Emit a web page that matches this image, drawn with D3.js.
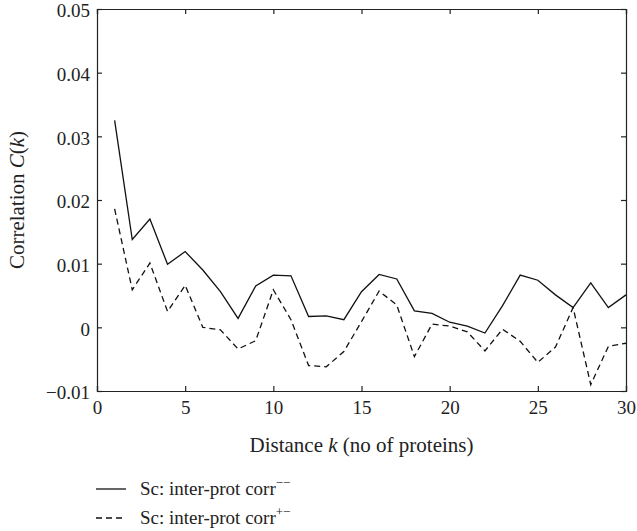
<!DOCTYPE html>
<html>
<head>
<meta charset="utf-8">
<script src="https://cdn.jsdelivr.net/npm/d3@7"></script>
<style>
  body { margin: 0; background: #fff; }
  svg text { font-family: "Liberation Serif", "DejaVu Serif", serif; fill: #222; }
</style>
</head>
<body>
<script>
// distance k (no of proteins)
var distance = d3.range(1, 31);

// Sc: inter-prot corr-- (solid)
var corrMinusMinus = [0.0325, 0.0138, 0.0170, 0.0099, 0.0119, 0.0090, 0.0056, 0.0014, 0.0065, 0.0082,
                      0.0081, 0.0017, 0.0018, 0.0012, 0.0056, 0.0083, 0.0076, 0.0026, 0.0022, 0.0008,
                      0.0002, -0.0009, 0.0034, 0.0082, 0.0074, 0.0051, 0.0031, 0.0070, 0.0031, 0.0051];

// Sc: inter-prot corr+- (dashed)
var corrPlusMinus = [0.0186, 0.0059, 0.0101, 0.0025, 0.0066, 0.0000, -0.0004, -0.0034, -0.0021, 0.0059,
                     0.0012, -0.0060, -0.0062, -0.0038, 0.0009, 0.0057, 0.0035, -0.0046, 0.0005, 0.0002,
                     -0.0007, -0.0037, -0.0003, -0.0022, -0.0055, -0.0031, 0.0031, -0.0090, -0.0030, -0.0025];

var xTicks = [0, 5, 10, 15, 20, 25, 30];
var yTicks = [-0.01, 0, 0.01, 0.02, 0.03, 0.04, 0.05];

var width = 637, height = 531;
var margin = { left: 97, right: 11, top: 9, bottom: 140 };
var plotW = width - margin.left - margin.right,
    plotH = height - margin.top - margin.bottom;

var x = d3.scaleLinear().domain([0, 30]).range([0, plotW]);
var y = d3.scaleLinear().domain([-0.01, 0.05]).range([plotH, 0]);

var svg = d3.select("body").append("svg")
    .attr("width", width)
    .attr("height", height);

var g = svg.append("g")
    .attr("transform", "translate(" + margin.left + "," + margin.top + ")");

var yFmt = function(d) { return d === 0 ? "0" : d3.format(".2f")(d).replace("-", "\u2212"); };

// axes, ticks pointing inward
var xAxis = g.append("g").attr("transform", "translate(0," + plotH + ")")
    .call(d3.axisBottom(x).tickValues(xTicks).tickSize(-5).tickPadding(9));
var xTop = g.append("g")
    .call(d3.axisTop(x).tickValues(xTicks).tickSize(-5).tickFormat(""));
var yAxis = g.append("g")
    .call(d3.axisLeft(y).tickValues(yTicks).tickSize(-5).tickPadding(7).tickFormat(yFmt));
var yRight = g.append("g").attr("transform", "translate(" + plotW + ",0)")
    .call(d3.axisRight(y).tickValues(yTicks).tickSize(-5).tickFormat(""));

[xAxis, xTop, yAxis, yRight].forEach(function(a) {
    a.select(".domain").attr("stroke", "#222").attr("stroke-width", 1.2);
    a.selectAll(".tick line").attr("stroke", "#222").attr("stroke-width", 1.2);
    a.selectAll("text").style("font-size", "19px").attr("fill", "#222");
});
xAxis.selectAll("text").attr("dy", "0.75em");
yAxis.selectAll("text").attr("dy", "0.42em");

var line = d3.line()
    .x(function(d, i) { return x(distance[i]); })
    .y(function(d) { return y(d); });

g.append("path").datum(corrMinusMinus)
    .attr("d", line)
    .attr("fill", "none")
    .attr("stroke", "#111")
    .attr("stroke-width", 1.3);

g.append("path").datum(corrPlusMinus)
    .attr("d", line)
    .attr("fill", "none")
    .attr("stroke", "#111")
    .attr("stroke-width", 1.3)
    .attr("stroke-dasharray", "6,4");

// axis titles
var xl = svg.append("text")
    .attr("x", margin.left + plotW / 2)
    .attr("y", 452)
    .attr("text-anchor", "middle")
    .style("font-size", "21px");
xl.append("tspan").text("Distance ");
xl.append("tspan").style("font-style", "italic").text("k");
xl.append("tspan").text(" (no of proteins)");

var yl = svg.append("text")
    .attr("transform", "translate(24," + (margin.top + plotH / 2) + ") rotate(-90)")
    .attr("text-anchor", "middle")
    .style("font-size", "21px");
yl.append("tspan").text("Correlation ");
yl.append("tspan").style("font-style", "italic").text("C");
yl.append("tspan").text("(");
yl.append("tspan").style("font-style", "italic").text("k");
yl.append("tspan").text(")");

// legend
var legendItems = [
    { label: "Sc: inter-prot corr", sup: "\u2212\u2212", dash: null },
    { label: "Sc: inter-prot corr", sup: "+\u2212", dash: "6,4" }
];

var legend = svg.append("g").attr("transform", "translate(96,489)");
legendItems.forEach(function(item, i) {
    var row = legend.append("g").attr("transform", "translate(0," + (i * 29) + ")");
    row.append("line")
        .attr("x1", 0).attr("x2", 30)
        .attr("y1", 0).attr("y2", 0)
        .attr("stroke", "#111")
        .attr("stroke-width", 1.3)
        .attr("stroke-dasharray", item.dash);
    var t = row.append("text")
        .attr("x", 44).attr("y", 6)
        .style("font-size", "19px");
    t.append("tspan").text(item.label);
    t.append("tspan").attr("dy", -8).style("font-size", "13px").text(item.sup);
});
</script>
</body>
</html>
